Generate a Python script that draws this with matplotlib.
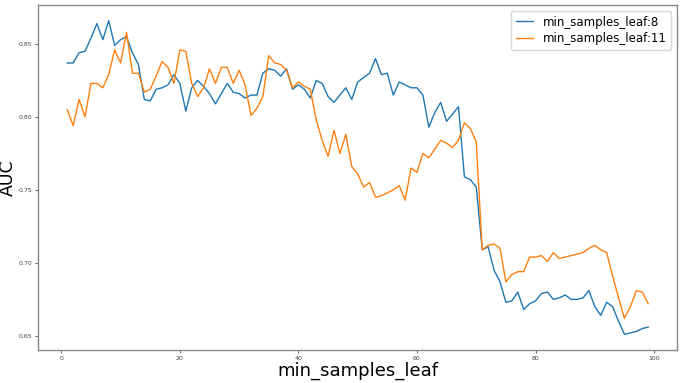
import matplotlib
matplotlib.use("Agg")
import matplotlib.pyplot as plt

# min_samples_leaf values on the x axis
leaf_sizes = list(range(1, 100))

# AUC for min_samples_leaf:8
auc_leaf8 = [
    0.837, 0.837, 0.844, 0.845, 0.854, 0.864, 0.853, 0.866, 0.849, 0.853,
    0.855, 0.844, 0.836, 0.812, 0.811, 0.819, 0.820, 0.822, 0.829, 0.823,
    0.804, 0.820, 0.825, 0.821, 0.816, 0.809, 0.816, 0.823, 0.817, 0.816,
    0.813, 0.815, 0.815, 0.830, 0.833, 0.832, 0.828, 0.833, 0.819, 0.822,
    0.819, 0.813, 0.825, 0.823, 0.814, 0.810, 0.815, 0.820, 0.812, 0.824,
    0.827, 0.830, 0.840, 0.829, 0.830, 0.815, 0.824, 0.822, 0.820, 0.820,
    0.815, 0.793, 0.803, 0.810, 0.797, 0.802, 0.807, 0.759, 0.757, 0.752,
    0.709, 0.711, 0.695, 0.687, 0.673, 0.674, 0.680, 0.668, 0.672, 0.674,
    0.679, 0.680, 0.675, 0.676, 0.678, 0.675, 0.675, 0.676, 0.681, 0.670,
    0.664, 0.673, 0.670, 0.660, 0.651, 0.652, 0.653, 0.655, 0.656,
]

# AUC for min_samples_leaf:11
auc_leaf11 = [
    0.805, 0.794, 0.812, 0.800, 0.823, 0.823, 0.820, 0.829, 0.846, 0.837,
    0.858, 0.830, 0.830, 0.817, 0.819, 0.828, 0.838, 0.834, 0.823, 0.846,
    0.845, 0.823, 0.814, 0.820, 0.833, 0.823, 0.834, 0.834, 0.823, 0.832,
    0.822, 0.801, 0.806, 0.814, 0.842, 0.837, 0.836, 0.832, 0.820, 0.824,
    0.821, 0.819, 0.798, 0.784, 0.773, 0.791, 0.775, 0.788, 0.766, 0.761,
    0.752, 0.755, 0.745, 0.746, 0.748, 0.750, 0.753, 0.743, 0.765, 0.762,
    0.775, 0.772, 0.778, 0.784, 0.782, 0.779, 0.784, 0.796, 0.792, 0.783,
    0.709, 0.712, 0.713, 0.710, 0.687, 0.692, 0.694, 0.694, 0.704, 0.704,
    0.705, 0.701, 0.707, 0.703, 0.704, 0.705, 0.706, 0.707, 0.710, 0.712,
    0.709, 0.707, 0.691, 0.676, 0.662, 0.670, 0.681, 0.680, 0.672,
]

fig = plt.figure(figsize=(6.82, 3.83), dpi=100)
ax = fig.add_axes([0.056, 0.086, 0.937, 0.901])

ax.plot(leaf_sizes, auc_leaf8, color="tab:blue", linewidth=1.0, label="min_samples_leaf:8")
ax.plot(leaf_sizes, auc_leaf11, color="tab:orange", linewidth=1.0, label="min_samples_leaf:11")

ax.set_xticks([0, 20, 40, 60, 80, 100])
ax.set_yticks([0.65, 0.70, 0.75, 0.80, 0.85])
ax.tick_params(labelsize=4.5, length=2, width=0.6, pad=2, colors="#444444")
for spine in ax.spines.values():
    spine.set_color("#888888")
    spine.set_linewidth(1.0)

ax.set_xlabel("min_samples_leaf", fontsize=13, labelpad=1)
ax.set_ylabel("AUC", fontsize=12.5)
ax.yaxis.set_label_coords(-0.033, 0.5)
ax.legend(loc="upper right", fontsize=8.5, handlelength=1.5, labelspacing=0.3)

fig.savefig("out.png", dpi=100)
